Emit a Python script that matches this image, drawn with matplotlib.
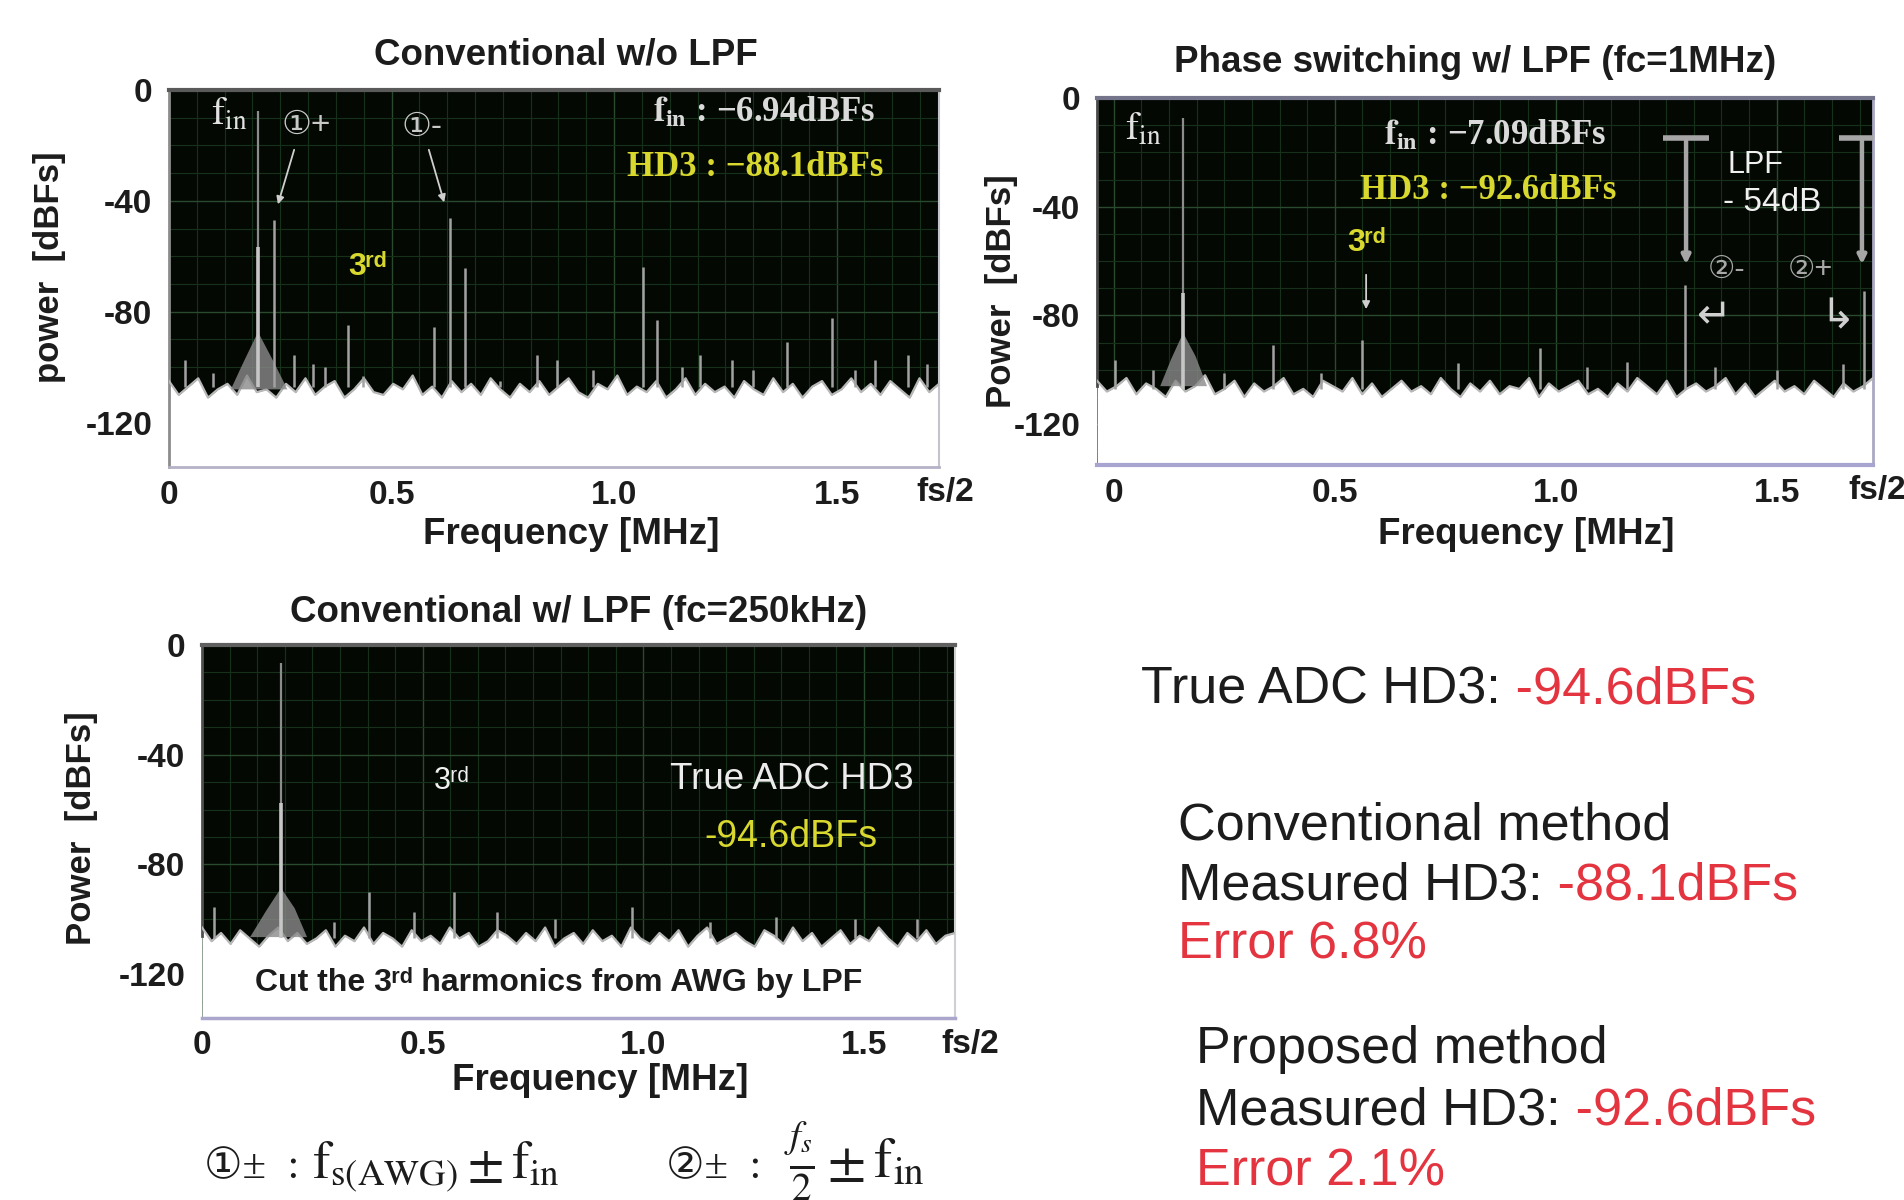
import numpy as np
import matplotlib.pyplot as plt
from matplotlib.ticker import MultipleLocator

plt.rcParams['font.family'] = ['Liberation Sans', 'DejaVu Sans']
plt.rcParams['mathtext.fontset'] = 'stix'

W, H = 1904, 1200
SERIF = ['Liberation Serif', 'DejaVu Sans']
YELLOW = '#d8d82e'
RED = '#e3343f'
DARK = '#1c1c1c'

# ---------------- data (MHz / dBFS) ----------------
# panel 1: conventional w/o LPF
p1_fin = 0.200
p1_fin_top, p1_fin_bright = -7.5, -56.6
p1_skirt_f = [0.139, 0.165, 0.200, 0.235, 0.266]
p1_skirt_db = [-108, -99, -87.3, -98, -108]
p1_spur_f = [0.236, 0.631, 0.665, 0.402, 0.595, 1.065, 1.096, 1.389, 1.490,
             0.281, 0.827, 0.872, 1.193, 1.265, 1.586, 1.660, 0.036, 0.324,
             0.436, 0.744, 0.953, 1.152, 1.312, 1.541, 1.703, 0.099, 0.350]
p1_spur_db = [-46.9, -46.2, -64.2, -84.8, -85.5, -63.9, -83.0, -90.9, -82.2,
              -95.6, -95.6, -97.4, -95.6, -97.4, -97.4, -95.6, -97.4, -99,
              -103, -105, -101, -100, -101, -101, -99, -102, -100]
p1_floor = [
    -105, -110, -107, -104, -111, -108, -106, -110, -103, -109, -108, -111,
    -106, -109, -104, -110, -107, -105, -111, -108, -104, -109, -110, -106,
    -108, -103, -110, -107, -111, -105, -109, -106, -110, -104, -108, -111,
    -106, -109, -105, -110, -107, -104, -109, -111, -106, -108, -103, -110,
    -107, -109, -105, -111, -108, -104, -110, -106, -109, -107, -111, -105,
    -108, -110, -104, -109, -106, -111, -107, -105, -110, -108, -104, -109,
    -106, -110, -105, -108, -111, -104, -109, -106,
]

# panel 2: phase switching w/ LPF (fc=1MHz)
p2_fin = 0.157
p2_fin_top, p2_fin_bright = -7.4, -71.7
p2_skirt_f = [0.105, 0.130, 0.157, 0.185, 0.211]
p2_skirt_db = [-106, -96, -86.4, -95, -106]
p2_spur_f = [1.292, 1.697, 0.360, 0.562, 0.964, 1.161, 0.779, 0.003, 0.089,
             1.070, 1.360, 1.650, 0.250, 0.470, 1.500]
p2_spur_db = [-68.8, -71.0, -90.9, -89.0, -92.0, -97.1, -97.5, -96.4, -100,
              -99, -99, -98, -101, -101, -100]
p2_floor = [
    -104, -108, -106, -103, -109, -105, -107, -110, -104, -108, -106, -102,
    -109, -107, -104, -110, -105, -108, -106, -103, -109, -107, -110, -104,
    -106, -108, -103, -109, -105, -110, -107, -104, -108, -106, -109, -103,
    -107, -110, -105, -108, -104, -109, -106, -107, -103, -110, -105, -108,
    -106, -104, -109, -107, -110, -105, -108, -103, -106, -109, -104, -110,
    -107, -105, -108, -106, -103, -109, -105, -110, -107, -104, -108, -106,
    -109, -104, -107, -110, -105, -108, -106, -103,
]

# panel 3: conventional w/ LPF (fc=250kHz)
p3_fin = 0.179
p3_fin_top, p3_fin_bright = -6.6, -57.6
p3_skirt_f = [0.109, 0.145, 0.179, 0.210, 0.238]
p3_skirt_db = [-106.5, -97, -88.6, -96, -106.5]
p3_spur_f = [0.378, 0.571, 0.480, 0.668, 0.027, 0.974, 1.480, 0.300, 0.800,
             1.150, 1.300, 1.620]
p3_spur_db = [-90, -90, -97.4, -97.4, -95.5, -95.5, -100, -101, -100,
              -101, -99, -100]
p3_floor = [
    -103, -108, -105, -109, -104, -107, -110, -106, -103, -108, -105, -109,
    -107, -104, -110, -106, -108, -103, -109, -105, -107, -110, -104, -108,
    -106, -109, -103, -107, -105, -110, -108, -104, -106, -109, -105, -108,
    -103, -110, -107, -105, -109, -104, -108, -106, -110, -103, -107, -109,
    -105, -108, -104, -110, -106, -103, -109, -107, -105, -108, -110, -104,
    -106, -109, -103, -108, -105, -110, -107, -104, -109, -106, -108, -103,
    -107, -110, -105, -108, -104, -109, -106, -105,
]

xtick_vals = [0, 0.5, 1.0, 1.5]
xtick_labels = ['0', '0.5', '1.0', '1.5']
ytick_vals = [0, -40, -80, -120]
ytick_labels = ['0', '-40', '-80', '-120']

# LPF bracket in panel 2
lpf_x = [1.295, 1.693]
lpf_top, lpf_tip = -14.7, -62.2


def px_rect(left, top, right, bottom):
    return [left / W, 1 - bottom / H, (right - left) / W, (bottom - top) / H]


def spectrum_panel(rect, xlim, ylim, floor, fin, fin_top, fin_bright,
                   skirt_f, skirt_db, spur_f, spur_db, spines):
    ax = fig.add_axes(rect)
    ax.set_facecolor('#030803')
    ax.set_xlim(xlim)
    ax.set_ylim(ylim)

    ff = np.linspace(xlim[0], xlim[1], len(floor))
    ax.fill_between(ff, floor, ylim[0], color='white', lw=0, zorder=2)
    ax.plot(ff, floor, color='#b8b8b8', lw=1.6, zorder=3)
    ax.fill(skirt_f, skirt_db, color='#8a8a8a', alpha=0.8, lw=0, zorder=3)
    ax.vlines(spur_f, -107, spur_db, color='#a2a2a2', lw=1.8, zorder=4)
    ax.vlines(fin, -107, fin_top, color='#8c8c8c', lw=1.6, zorder=4)
    ax.vlines(fin, -107, fin_bright, color='#c6c6c6', lw=2.6, zorder=5)

    ax.set_xticks(xtick_vals)
    ax.set_xticklabels(xtick_labels, fontweight='bold', color=DARK)
    ax.set_yticks(ytick_vals)
    ax.set_yticklabels(ytick_labels, fontweight='bold', color=DARK)
    ax.xaxis.set_minor_locator(MultipleLocator(0.0625))
    ax.yaxis.set_minor_locator(MultipleLocator(10))
    ax.tick_params(axis='x', which='major', length=0, pad=9, labelsize=24)
    ax.tick_params(axis='x', which='minor', length=6, width=1,
                   direction='in', color='#9c9cb0')
    ax.tick_params(axis='y', which='both', length=0, pad=12, labelsize=24)

    ax.set_axisbelow(True)
    ax.grid(which='minor', color='#16301a', lw=0.8)
    ax.grid(which='major', color='#2a4a2e', lw=1.0)

    for side, (col, lw) in spines.items():
        ax.spines[side].set_color(col)
        ax.spines[side].set_linewidth(lw)
    return ax


fig = plt.figure(figsize=(W / 100, H / 100), dpi=100)
arrow_kw = dict(arrowstyle='-|>', color='#cfcfcf', lw=1.3, mutation_scale=11)

# ---------------- panel 1 ----------------
ax1 = spectrum_panel(px_rect(169, 90, 939, 467), (0, 1.73), (-136, 0),
                     p1_floor, p1_fin, p1_fin_top, p1_fin_bright,
                     p1_skirt_f, p1_skirt_db, p1_spur_f, p1_spur_db,
                     {'top': ('#5a5a5a', 3), 'left': ('#8c8c8c', 2),
                      'right': ('#c4c4cc', 1.5), 'bottom': ('#b4b2c6', 2)})
ax1.text(0.095, -9, r'$\mathrm{f}_{\mathrm{in}}$', color='#e2e2e2',
         fontsize=28, ha='left', va='center', zorder=6)
ax1.text(0.252, -12.6, '①+', color='#c8c8c8', fontsize=24,
         ha='left', va='center', zorder=6)
ax1.text(0.522, -13.3, '①-', color='#c8c8c8', fontsize=24,
         ha='left', va='center', zorder=6)
ax1.annotate('', xy=(0.243, -42.2), xytext=(0.283, -20.6), arrowprops=arrow_kw)
ax1.annotate('', xy=(0.620, -41.5), xytext=(0.582, -20.6), arrowprops=arrow_kw)
ax1.text(0.445, -63.9, '3ʳᵈ', color=YELLOW, fontsize=23, fontweight='bold',
         ha='center', va='center', zorder=6)
ax1.text(1.087, -8.3, r'$\mathbf{f_{in}}$ : −6.94dBFs', family=SERIF,
         fontweight='bold', color='#dadada', fontsize=25, ha='left',
         va='center', zorder=6)
ax1.text(1.029, -28.1, 'HD3 : −88.1dBFs', family=SERIF, fontweight='bold',
         color=YELLOW, fontsize=25, ha='left', va='center', zorder=6)

# ---------------- panel 2 ----------------
ax2 = spectrum_panel(px_rect(1097, 98, 1873, 465), (-0.038, 1.718), (-135, 0),
                     p2_floor, p2_fin, p2_fin_top, p2_fin_bright,
                     p2_skirt_f, p2_skirt_db, p2_spur_f, p2_spur_db,
                     {'top': ('#74748a', 3), 'left': ('#4a4a4a', 2),
                      'right': ('#aaa8c4', 2), 'bottom': ('#a8a4d0', 3)})
ax2.spines['left'].set_bounds(-106, 0)
ax2.text(0.026, -11.8, r'$\mathrm{f}_{\mathrm{in}}$', color='#e2e2e2',
         fontsize=28, ha='left', va='center', zorder=6)
ax2.text(0.611, -14, r'$\mathbf{f_{in}}$ : −7.09dBFs', family=SERIF,
         fontweight='bold', color='#dadada', fontsize=25, ha='left',
         va='center', zorder=6)
ax2.text(0.557, -34.2, 'HD3 : −92.6dBFs', family=SERIF, fontweight='bold',
         color=YELLOW, fontsize=25, ha='left', va='center', zorder=6)
ax2.text(0.571, -53.3, '3ʳᵈ', color=YELLOW, fontsize=23, fontweight='bold',
         ha='center', va='center', zorder=6)
ax2.annotate('', xy=(0.571, -78.7), xytext=(0.571, -64), arrowprops=arrow_kw)
for x in lpf_x:
    ax2.plot([x - 0.053, x + 0.053], [lpf_top, lpf_top], color='#a6a6a6',
             lw=4, zorder=6, solid_capstyle='butt')
    ax2.annotate('', xy=(x, lpf_tip), xytext=(x, lpf_top),
                 arrowprops=dict(arrowstyle='-|>', color='#a6a6a6', lw=3.2,
                                 mutation_scale=12))
ax2.text(1.451, -24.6, 'LPF', color='#f0f0f0', fontsize=22,
         ha='center', va='center', zorder=6)
ax2.text(1.489, -38.3, '- 54dB', color='#f0f0f0', fontsize=24,
         ha='center', va='center', zorder=6)
ax2.text(1.345, -63.3, '②-', color='#a8a8a8', fontsize=22,
         ha='left', va='center', zorder=6)
ax2.text(1.526, -63.3, '②+', color='#a8a8a8', fontsize=22,
         ha='left', va='center', zorder=6)
ax2.text(1.36, -80.6, '↵', color='#d0d0d0', fontsize=30,
         ha='center', va='center', zorder=6)
ax2.text(1.638, -80.6, '↳', color='#d0d0d0', fontsize=30,
         ha='center', va='center', zorder=6)

# ---------------- panel 3 ----------------
ax3 = spectrum_panel(px_rect(202, 645, 955, 1018), (0, 1.706), (-136, 0),
                     p3_floor, p3_fin, p3_fin_top, p3_fin_bright,
                     p3_skirt_f, p3_skirt_db, p3_spur_f, p3_spur_db,
                     {'top': ('#606060', 3), 'left': ('#505050', 2),
                      'right': ('#d0d0d4', 1.5), 'bottom': ('#aaa6cc', 2.5)})
ax3.spines['left'].set_bounds(-106, 0)
ax3.text(0.567, -49.6, '3ʳᵈ', color='#f0f0f0', fontsize=22,
         ha='center', va='center', zorder=6)
ax3.text(1.337, -49.2, 'True ADC HD3', color='#ececec', fontsize=26.5,
         ha='center', va='center', zorder=6)
ax3.text(1.335, -70, '-94.6dBFs', color=YELLOW, fontsize=27,
         ha='center', va='center', zorder=6)
ax3.text(0.809, -123.2, 'Cut the 3ʳᵈ harmonics from AWG by LPF', color=DARK,
         fontsize=23, fontweight='bold', ha='center', va='center', zorder=6)

# ---------------- figure-level text (pixel coordinates) ----------------
ov = fig.add_axes([0, 0, 1, 1])
ov.set_xlim(0, W)
ov.set_ylim(H, 0)
ov.axis('off')
ov.patch.set_visible(False)

bold = dict(fontweight='bold', color=DARK, ha='center', va='center')
ov.text(566, 55, 'Conventional w/o LPF', fontsize=26.5, **bold)
ov.text(1475, 63, 'Phase switching w/ LPF (fc=1MHz)', fontsize=26.5, **bold)
ov.text(579, 613, 'Conventional w/ LPF (fc=250kHz)', fontsize=26.5, **bold)

ov.text(571, 534, 'Frequency [MHz]', fontsize=26.5, **bold)
ov.text(1526, 535, 'Frequency [MHz]', fontsize=26.5, **bold)
ov.text(600, 1081, 'Frequency [MHz]', fontsize=26.5, **bold)
ov.text(49, 267, 'power  [dBFs]', fontsize=25, rotation=90, **bold)
ov.text(1001, 291, 'Power  [dBFs]', fontsize=25, rotation=90, **bold)
ov.text(82, 828, 'Power  [dBFs]', fontsize=25, rotation=90, **bold)

ov.text(945, 493, 'fs/2', fontsize=24, **bold)
ov.text(1877, 491, 'fs/2', fontsize=24, **bold)
ov.text(970, 1044, 'fs/2', fontsize=24, **bold)

# legend of the image spurs
ov.text(204, 1178, '①±  :', family=SERIF, fontsize=31, color=DARK,
        ha='left', va='baseline')
ov.text(312, 1178, r'$\mathrm{f}_{\mathrm{s(AWG)}} \pm \mathrm{f}_{\mathrm{in}}$',
        fontsize=38, color=DARK, ha='left', va='baseline')
ov.text(666, 1178, '②±  :', family=SERIF, fontsize=31, color=DARK,
        ha='left', va='baseline')
ov.text(784, 1178, r'$\frac{f_s}{2} \pm \mathrm{f}_{\mathrm{in}}$',
        fontsize=40, color=DARK, ha='left', va='baseline')


def two_tone(x, y, first, second, size=37.5):
    t = ov.text(x, y, first, fontsize=size, color=DARK, ha='left', va='center')
    ov.annotate(second, xy=(1, 0), xycoords=t, ha='left', va='bottom',
                fontsize=size, color=RED)


two_tone(1141, 690, 'True ADC HD3:', ' -94.6dBFs')
ov.text(1178, 826, 'Conventional method', fontsize=37.5, color=DARK,
        ha='left', va='center')
two_tone(1178, 886, 'Measured HD3:', ' -88.1dBFs')
ov.text(1178, 945, 'Error 6.8%', fontsize=37.5, color=RED, ha='left', va='center')
ov.text(1196, 1050, 'Proposed method', fontsize=37.5, color=DARK,
        ha='left', va='center')
two_tone(1196, 1111, 'Measured HD3:', ' -92.6dBFs')
ov.text(1196, 1172, 'Error 2.1%', fontsize=37.5, color=RED, ha='left', va='center')

fig.savefig('out.png', dpi=100, facecolor='white')
